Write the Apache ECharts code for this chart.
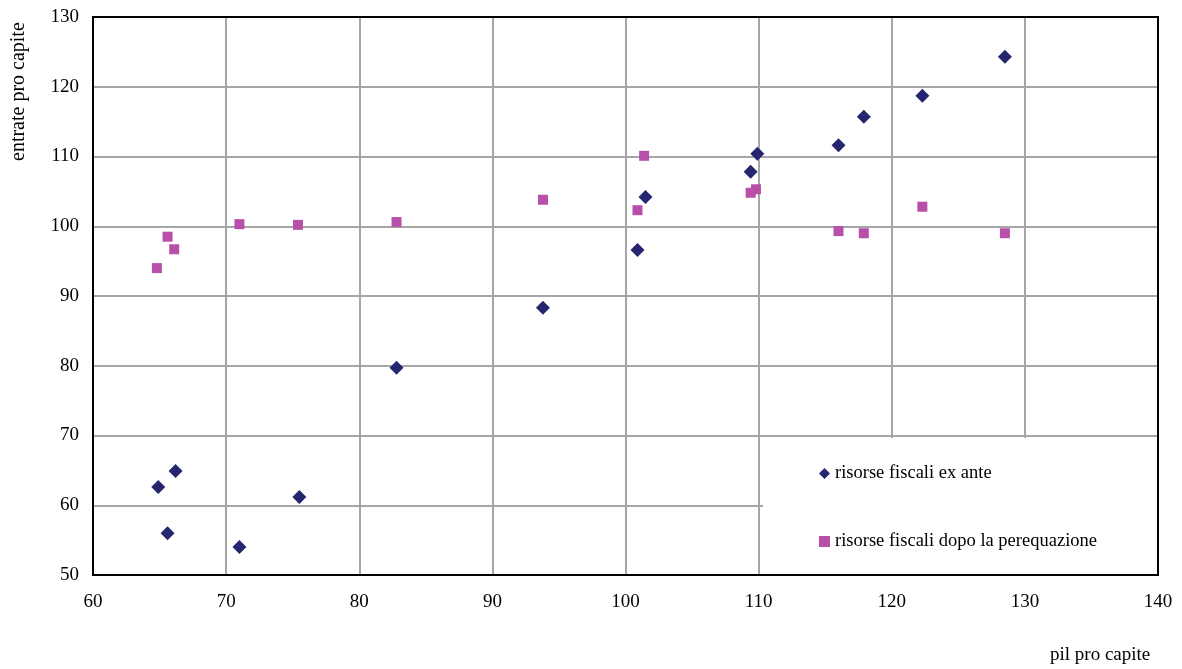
<!DOCTYPE html>
<html>
<head>
<meta charset="utf-8">
<script src="https://cdn.jsdelivr.net/npm/echarts@6/dist/echarts.min.js"></script>
<style>
html,body{margin:0;padding:0;background:#fff;}
#c{width:1182px;height:669px;}
</style>
</head>
<body>
<div id="c"></div>
<script>
var pilExAnte = [128.5, 122.3, 117.9, 116.0, 109.9, 109.4, 101.5, 100.9, 93.8, 82.8, 75.5, 71.0, 66.2, 64.9, 65.6];
var entrateExAnte = [124.3, 118.7, 115.7, 111.6, 110.4, 107.8, 104.2, 96.6, 88.3, 79.7, 61.2, 54.0, 64.9, 62.6, 56.0];
var pilDopo = [128.5, 122.3, 117.9, 116.0, 109.8, 109.4, 101.4, 100.9, 93.8, 82.8, 75.4, 71.0, 66.1, 65.6, 64.8];
var entrateDopo = [99.0, 102.8, 99.0, 99.3, 105.3, 104.8, 110.1, 102.3, 103.8, 100.6, 100.2, 100.3, 96.7, 98.5, 94.0];
var seriesNames = ['risorse fiscali ex ante', 'risorse fiscali dopo la perequazione'];
var xTitle = 'pil pro capite';
var yTitle = 'entrate pro capite';

function pairs(xs, ys){ return xs.map(function(x,i){ return [x, ys[i]]; }); }

var font = 'Liberation Serif';
var chart = echarts.init(document.getElementById('c'));
chart.setOption({
  animation: false,
  backgroundColor: '#fff',
  textStyle: {fontFamily: font},
  grid: {left: 93, right: 24, top: 17, bottom: 94},
  xAxis: {
    type: 'value', min: 60, max: 140, interval: 10,
    axisLine: {show: true, lineStyle: {color: '#000', width: 2}},
    axisTick: {show: false},
    axisLabel: {color: '#000', fontSize: 19, fontFamily: font, margin: 18},
    splitLine: {show: true, lineStyle: {color: '#a6a6a6', width: 2}}
  },
  yAxis: {
    type: 'value', min: 50, max: 130, interval: 10,
    axisLine: {show: true, lineStyle: {color: '#000', width: 2}},
    axisTick: {show: false},
    axisLabel: {color: '#000', fontSize: 19, fontFamily: font, margin: 14},
    splitLine: {show: true, lineStyle: {color: '#a6a6a6', width: 2}}
  },
  legend: {
    orient: 'vertical', left: 814, top: 459, itemGap: 49, z: 10,
    itemWidth: 11, itemHeight: 11,
    textStyle: {color: '#000', fontSize: 18.5, fontFamily: font},
    data: [{name: seriesNames[0], icon: 'diamond'}, {name: seriesNames[1], icon: 'rect'}]
  },
  graphic: [
    {type: 'rect', z: 5, shape: {x: 763, y: 438, width: 394, height: 136}, style: {fill: '#fff'}},
    {type: 'rect', z: 20, shape: {x: 93, y: 17, width: 1065, height: 558}, style: {fill: null, stroke: '#000', lineWidth: 2}},
    {type: 'text', left: 1050, top: 646, style: {text: xTitle, fontSize: 19, fontFamily: font, fill: '#000'}},
    {type: 'text', x: 9, y: 161, rotation: Math.PI/2, style: {text: yTitle, fontSize: 20, fontFamily: font, fill: '#000', align: 'left', verticalAlign: 'top'}}
  ],
  series: [
    {name: seriesNames[0], type: 'scatter', symbol: 'diamond', symbolSize: 14, itemStyle: {color: '#262670', opacity: 1}, data: pairs(pilExAnte, entrateExAnte)},
    {name: seriesNames[1], type: 'scatter', symbol: 'rect', symbolSize: 10, itemStyle: {color: '#b84fa8', opacity: 1}, data: pairs(pilDopo, entrateDopo)}
  ]
});
</script>
</body>
</html>
